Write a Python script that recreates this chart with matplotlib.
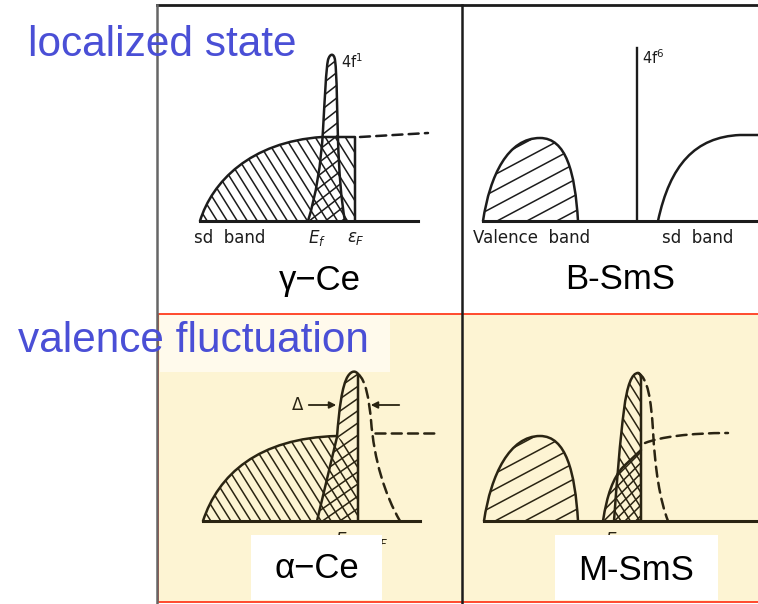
import numpy as np
import matplotlib.pyplot as plt
from matplotlib.path import Path
from matplotlib.patches import PathPatch, Rectangle
from matplotlib.collections import LineCollection

# 标签文字
row_titles = ['localized state', 'valence fluctuation']
panel_names = ['γ−Ce', 'B-SmS', 'α−Ce', 'M-SmS']
band_labels_ce = ['sd  band', r'$E_f$', r'$\varepsilon_F$']
band_labels_sms = ['Valence  band', 'sd  band']

# 各能带形状的控制点（像素坐标，y 向下）
g_sd = [(200, 221), [(212, 182), (250, 142), (322, 137)], [(355, 137)], [(355, 221)]]
g_4f = [(308, 221), [(316, 195), (321, 165), (323, 130)], [(325, 95), (326, 70), (328, 60)],
        [(330, 53), (334, 53), (335, 60)], [(337, 75), (337, 110), (338, 140)],
        [(339, 170), (341, 200), (345, 221)]]
g_dash = [(360, 137), [(428, 133)]]

b_val = [(483, 221), [(490, 175), (508, 138), (540, 138)], [(566, 138), (575, 172), (578, 221)]]
b_sd = [(658, 221), [(670, 165), (695, 137), (740, 135)], [(758, 135)]]

a_sd = [(203, 521), [(218, 475), (258, 438), (337, 436)], [(358, 455)], [(358, 521)]]
a_sd_line = [(203, 521), [(218, 475), (258, 438), (337, 436)]]
a_4f = [(317, 521), [(337, 437)], [(339, 410), (342, 385), (348, 376)],
        [(352, 370), (356, 371), (358, 374)], [(358, 521)]]
a_dash = [(358, 374), [(366, 380), (369, 400), (371, 420)], [(374, 460), (385, 495), (400, 521)]]
a_dash2 = [(375, 433), [(438, 433)]]

m_val = [(484, 521), [(491, 474), (510, 436), (540, 436)], [(566, 436), (575, 472), (578, 521)]]
m_sd = [(603, 521), [(607, 495), (613, 478), (623, 467)], [(641, 450)], [(641, 521)]]
m_4f = [(614, 521), [(617, 480), (620, 440), (624, 410)], [(627, 385), (632, 373), (638, 373)],
        [(640, 373), (641, 376), (641, 380)], [(641, 521)]]
m_dash = [(638, 373), [(648, 378), (651, 400), (653, 430)], [(655, 470), (660, 500), (668, 521)]]
m_dash2 = [(645, 443), [(660, 437), (690, 433), (728, 433)]]

INK = '#1c1c1c'
INK2 = '#2a2412'
BLUE = '#4a4fd6'


def make_path(pts, close=False):
    verts = [pts[0]]
    codes = [Path.MOVETO]
    for s in pts[1:]:
        verts += s
        codes += [Path.CURVE4] * 3 if len(s) == 3 else [Path.LINETO]
    if close:
        verts.append(pts[0])
        codes.append(Path.CLOSEPOLY)
    return Path(verts, codes)


def outline(ax, pts, color, lw=1.8, ls='-', close=False):
    ax.add_patch(PathPatch(make_path(pts, close), facecolor='none', edgecolor=color,
                           lw=lw, ls=ls, zorder=3, capstyle='round', joinstyle='round'))


def hatch(ax, pts, angle, step, color, lw=1.1):
    path = make_path(pts, close=True)
    patch = PathPatch(path, facecolor='none', edgecolor='none')
    ax.add_patch(patch)
    ext = path.get_extents()
    c0 = np.array([ext.x0 + ext.width / 2, ext.y0 + ext.height / 2])
    r = np.hypot(ext.width, ext.height) / 2 + step
    a = np.radians(angle)
    d = np.array([np.cos(a), -np.sin(a)])
    n = np.array([-d[1], d[0]])
    segs = [[c0 + k * n - r * d, c0 + k * n + r * d] for k in np.arange(-r, r + step, step)]
    lc = LineCollection(segs, colors=color, linewidths=lw, zorder=2)
    ax.add_collection(lc)
    lc.set_clip_path(patch)


fig = plt.figure(figsize=(7.58, 6.04), dpi=100)
ax = fig.add_axes([0, 0, 1, 1])
ax.set_xlim(0, 758)
ax.set_ylim(604, 0)
ax.axis('off')

# 下半部分的黄色底色和红框
ax.add_patch(Rectangle((158, 314), 620, 288, facecolor='#fdf4d3', edgecolor='#ff3b1f',
                       lw=1.3, zorder=0))
ax.add_patch(Rectangle((160, 315), 230, 57, facecolor='#fffaec', edgecolor='none', zorder=0.5))

# 框线
ax.plot([157, 758], [5, 5], color=INK, lw=2, zorder=1)
ax.plot([157, 157], [5, 604], color='#666666', lw=1.8, zorder=1)
ax.plot([462, 462], [5, 604], color=INK, lw=1.8, zorder=1)

lab = dict(ha='center', va='center', fontsize=12)

# γ-Ce
ax.plot([200, 418], [221, 221], color=INK, lw=2.2, zorder=3)
hatch(ax, g_sd, -58, 8.5, INK)
hatch(ax, g_4f, 38, 10, INK)
outline(ax, g_sd, INK)
outline(ax, g_4f, INK)
outline(ax, g_dash, INK, ls=(0, (4, 2.5)))
ax.text(230, 238, band_labels_ce[0], color=INK, **lab)
ax.text(317, 238, band_labels_ce[1], color=INK, **lab)
ax.text(356, 238, band_labels_ce[2], color=INK, **lab)
ax.text(341, 62, r'4f$^1$', ha='left', va='center', fontsize=10.5, color=INK)

# B-SmS
ax.plot([483, 758], [221, 221], color=INK, lw=2.2, zorder=3)
hatch(ax, b_val, 28, 14, INK)
outline(ax, b_val, INK)
outline(ax, b_sd, INK)
ax.plot([637, 637], [48, 221], color=INK, lw=1.7, zorder=3)
ax.text(642, 58, r'4f$^6$', ha='left', va='center', fontsize=10.5, color=INK)
ax.text(532, 238, band_labels_sms[0], color=INK, **lab)
ax.text(698, 238, band_labels_sms[1], color=INK, **lab)

# α-Ce
ax.plot([203, 420], [521, 521], color=INK2, lw=2.2, zorder=3)
hatch(ax, a_sd, -58, 8.5, INK2)
hatch(ax, a_4f, 35, 10, INK2)
outline(ax, a_sd_line, INK2)
outline(ax, a_4f, INK2)
outline(ax, a_dash, INK2, ls=(0, (4, 2.5)))
outline(ax, a_dash2, INK2, ls=(0, (4, 2.5)))
ax.text(298, 405, 'Δ', ha='center', va='center', fontsize=12, color=INK2)
ax.annotate('', xy=(339, 405), xytext=(306, 405),
            arrowprops=dict(arrowstyle='-|>', color=INK2, lw=1.3, mutation_scale=10))
ax.annotate('', xy=(368, 405), xytext=(402, 405),
            arrowprops=dict(arrowstyle='-|>', color=INK2, lw=1.3, mutation_scale=10))
ax.text(362, 540, r'$E_f\approx\varepsilon_F$', color=INK2, **lab)

# M-SmS
ax.plot([484, 758], [521, 521], color=INK2, lw=2.2, zorder=3)
hatch(ax, m_val, 28, 14, INK2)
hatch(ax, m_sd, 45, 7.5, INK2)
hatch(ax, m_4f, -58, 8, INK2)
outline(ax, m_val, INK2)
outline(ax, m_sd[:3], INK2)
outline(ax, m_4f, INK2)
outline(ax, m_dash, INK2, ls=(0, (4, 2.5)))
outline(ax, m_dash2, INK2, ls=(0, (4, 2.5)))
ax.text(628, 540, r'$E_f\approx\varepsilon$', color=INK2, **lab)

# 白底的名称框
ax.add_patch(Rectangle((251, 535), 131, 65, facecolor='white', edgecolor='none', zorder=4))
ax.add_patch(Rectangle((555, 535), 163, 65, facecolor='white', edgecolor='none', zorder=4))

font = 'Liberation Sans'
ax.text(28, 56, row_titles[0], fontsize=30.5, color=BLUE, family=font, va='baseline', zorder=5)
ax.text(18, 352, row_titles[1], fontsize=30.5, color=BLUE, family=font, va='baseline', zorder=5)
ax.text(320, 290, panel_names[0], fontsize=25, family=font, ha='center', va='baseline', zorder=5)
ax.text(620, 289, panel_names[1], fontsize=25, family=font, ha='center', va='baseline', zorder=5)
ax.text(317, 578, panel_names[2], fontsize=25, family=font, ha='center', va='baseline', zorder=5)
ax.text(636, 580, panel_names[3], fontsize=25, family=font, ha='center', va='baseline', zorder=5)

fig.savefig('out.png', dpi=100)
